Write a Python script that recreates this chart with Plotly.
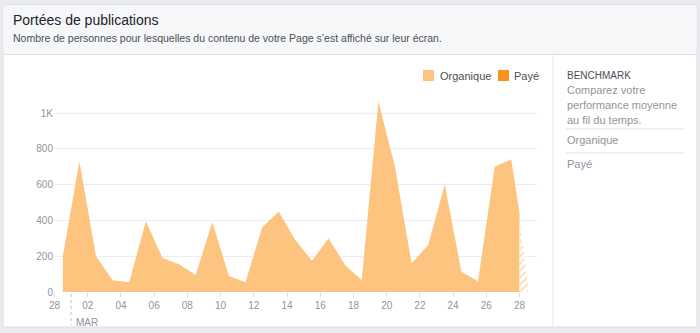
import plotly.graph_objects as go

# ---- data ----
days = ["28", "01", "02", "03", "04", "05", "06", "07", "08", "09", "10", "11", "12", "13",
        "14", "15", "16", "17", "18", "19", "20", "21", "22", "23", "24", "25", "26", "27"]
organique = [200, 730, 200, 65, 55, 395, 190, 155, 95, 390, 90, 55, 360, 450,
             290, 175, 300, 150, 67, 1065, 700, 160, 262, 600, 113, 60, 700, 740]
cutoff_value = 440          # value at the cut-off of the current (partial) day
partial_values = [400, 40]  # hatched projection of the partial day
tick_labels = ["28", "02", "04", "06", "08", "10", "12", "14", "16", "18", "20", "22", "24", "26", "28"]
y_ticks = [0, 200, 400, 600, 800, 1000]
y_tick_labels = ["0", "200", "400", "600", "800", "1K"]

# x positions: day index (0 = 28 Feb 00:00), points at mid-day
x_org = [i + 0.5 for i in range(len(organique))] + [len(organique)]
y_org = organique + [cutoff_value]
x_partial = [len(organique), len(organique) + 0.5]
tick_vals = [2 * i for i in range(len(tick_labels))]

W, H = 700, 333
L, R, T, B = 54, 163, 86, 41
PW, PH = W - L - R, H - T - B


def px(x):
    return (x - L) / PW


def py(y):
    return (H - B - y) / PH


ORG = "#fcc47e"
PAID = "#f7931e"
GRID = "#ebedf0"
TXT = "#90949c"
DARK = "#4b4f56"
FONT = "Liberation Sans, Arial, sans-serif"

fig = go.Figure()
fig.add_trace(go.Scatter(x=x_org, y=y_org, mode="lines", line=dict(width=0, color=ORG),
                         fill="tozeroy", fillcolor=ORG, hoverinfo="skip", showlegend=False))
fig.add_trace(go.Scatter(x=x_partial, y=partial_values, mode="lines", line=dict(width=0, color=ORG),
                         fill="tozeroy", fillcolor="rgba(0,0,0,0)",
                         fillpattern=dict(shape="/", fgcolor="#f9b866", bgcolor="white", size=5, solidity=0.35),
                         hoverinfo="skip", showlegend=False))

shapes = []
# page background card
shapes.append(dict(type="rect", xref="paper", yref="paper", x0=px(3), x1=px(697), y0=py(5), y1=py(327),
                   fillcolor="white", line=dict(color="#dddfe2", width=1), layer="below"))
shapes.append(dict(type="rect", xref="paper", yref="paper", x0=px(3.5), x1=px(696.5), y0=py(5.5), y1=py(54),
                   fillcolor="#f6f7f9", line=dict(width=0), layer="below"))
shapes.append(dict(type="line", xref="paper", yref="paper", x0=px(3), x1=px(697), y0=py(54.5), y1=py(54.5),
                   line=dict(color="#dddfe2", width=1), layer="below"))
# right panel divider
shapes.append(dict(type="line", xref="paper", yref="paper", x0=px(553), x1=px(553), y0=py(55), y1=py(327),
                   line=dict(color="#e5e6e9", width=1), layer="below"))
shapes.append(dict(type="line", xref="paper", yref="paper", x0=px(566), x1=px(684), y0=py(129), y1=py(129),
                   line=dict(color="#dddfe2", width=1), layer="below"))
shapes.append(dict(type="line", xref="paper", yref="paper", x0=px(566), x1=px(684), y0=py(153), y1=py(153),
                   line=dict(color="#dddfe2", width=1), layer="below"))
# month boundary
shapes.append(dict(type="line", xref="x", yref="paper", x0=1, x1=1, y0=py(294), y1=py(325),
                   line=dict(color="#bec3c9", width=1, dash="dot")))
# legend squares
shapes.append(dict(type="rect", xref="paper", yref="paper", x0=px(423), x1=px(434), y0=py(70), y1=py(81),
                   fillcolor=ORG, line=dict(width=0)))
shapes.append(dict(type="rect", xref="paper", yref="paper", x0=px(498), x1=px(509), y0=py(70), y1=py(81),
                   fillcolor=PAID, line=dict(width=0)))

ann = []


def text(x, y, s, size, color, xanchor="left"):
    ann.append(dict(x=px(x), y=py(y), xref="paper", yref="paper", text=s, showarrow=False,
                    xanchor=xanchor, yanchor="middle", font=dict(family=FONT, size=size, color=color)))


text(11, 20, "Portées de publications", 14, "#1d2129")
text(11, 38, "Nombre de personnes pour lesquelles du contenu de votre Page s’est affiché sur leur écran.", 10.5, DARK)
text(438, 76, "Organique", 11, DARK)
text(512, 76, "Payé", 11, DARK)
text(565, 75, "BENCHMARK", 10, DARK)
text(565, 90, "Comparez votre", 11, TXT)
text(565, 105, "performance moyenne", 11, TXT)
text(565, 120, "au fil du temps.", 11, TXT)
text(565, 140, "Organique", 11, TXT)
text(565, 164, "Payé", 11, TXT)
ann.append(dict(x=1, y=py(322), xref="x", yref="paper", text="MAR", showarrow=False, xanchor="left",
                yanchor="middle", xshift=3, font=dict(family=FONT, size=10, color=TXT)))

fig.update_layout(
    width=W, height=H, margin=dict(l=L, r=R, t=T, b=B, pad=0),
    paper_bgcolor="#e9ebee", plot_bgcolor="rgba(0,0,0,0)",
    shapes=shapes, annotations=ann, showlegend=False,
    font=dict(family=FONT, color=TXT, size=10),
)
fig.update_xaxes(range=[-0.03, 29.05], tickvals=tick_vals, ticktext=tick_labels, showgrid=False,
                 zeroline=False, showline=False, ticks="outside", ticklen=4, tickcolor="#dddfe2",
                 tickfont=dict(size=10, color=TXT), fixedrange=True)
fig.update_yaxes(range=[0, 1151], tickvals=y_ticks, ticktext=y_tick_labels, showgrid=True, gridcolor=GRID,
                 zeroline=False, showline=False, ticks="", tickfont=dict(size=10, color=TXT), fixedrange=True)

fig.write_html("out.html", config=dict(displayModeBar=False))
